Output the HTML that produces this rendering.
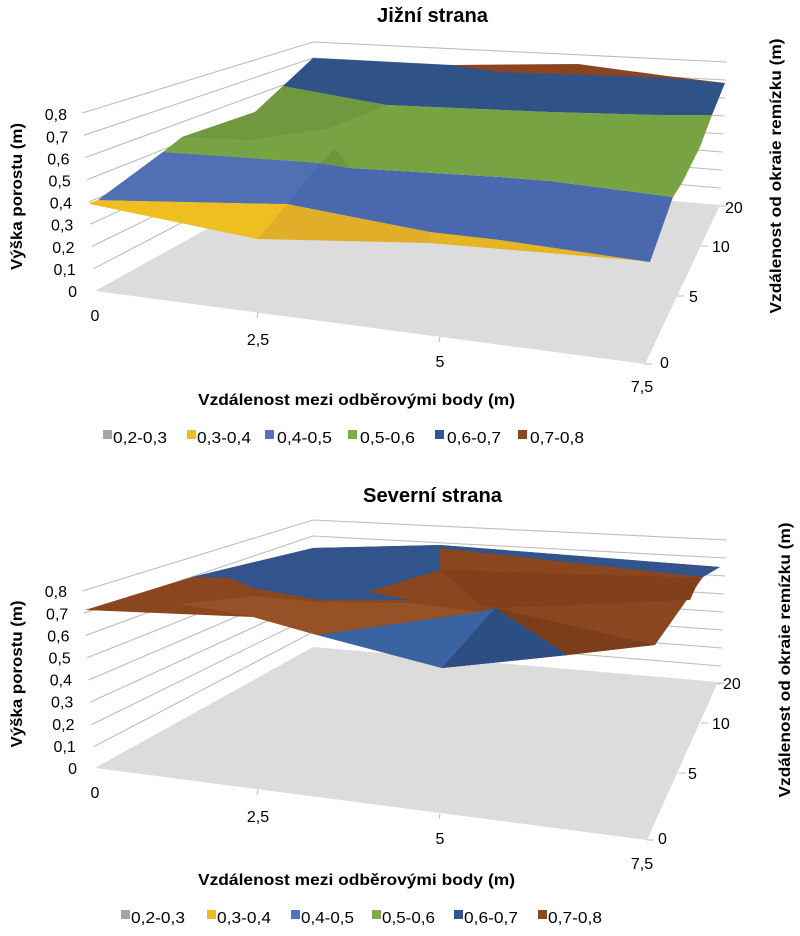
<!DOCTYPE html>
<html>
<head>
<meta charset="utf-8">
<style>
  html,body{margin:0;padding:0;background:#fff;}
  svg{display:block;}
  text{font-family:"Liberation Sans",sans-serif;fill:#000;}
  .t{font-size:16px;}
  .b{font-weight:bold;}
</style>
</head>
<body>
<svg width="800" height="936" viewBox="0 0 800 936" xmlns="http://www.w3.org/2000/svg">

<!-- ================= TOP CHART ================= -->
<g id="top">
  <!-- gridlines -->
  <g fill="none" stroke="#bcbcbc" stroke-width="1.1">
    <polyline points="313,170 720,206"/>
    <polyline points="93.4,268.8 313,154 720.9,188"/>
    <polyline points="91.8,246.5 313,138 721.8,170"/>
    <polyline points="90.2,224.3 313,122 722.6,152"/>
    <polyline points="88.6,202 313,106 723.5,134"/>
    <polyline points="87,179.8 313,90 724.4,116"/>
    <polyline points="85.4,157.5 313,74 725.3,98"/>
    <polyline points="83.8,135.3 313,58 726.1,80"/>
    <polyline points="82.2,113 313,42 727,62"/>
  </g>
  <!-- floor -->
  <polygon points="95,291 645,364 720,205 313,170" fill="#dcdcdc"/>
  <!-- ticks -->
  <g stroke="#bcbcbc" stroke-width="1">
    <line x1="258" y1="312.6" x2="257" y2="318"/>
    <line x1="440" y1="336.8" x2="439" y2="342"/>
    <line x1="645" y1="364" x2="652" y2="364"/>
    <line x1="677" y1="296" x2="684" y2="296"/>
    <line x1="701" y1="246" x2="708" y2="246"/>
    <line x1="720" y1="206" x2="727" y2="206"/>
  </g>
  <!-- surface -->
  <polygon points="90,203 98,200 287,204 430,232 500,240 650,262 633,260 550,253 430,243 258,239 90,204" fill="#e0ae28"/>
  <polygon points="90,203 98,200 287,204 258,239 90,204" fill="#efbf22"/>
  <polygon points="430,232 500,240 650,262 633,260 550,253 430,243" fill="#e6b526"/>
  <polygon points="98,200 163,152 250,158 320,163 350,168 500,177 550,181 673,197 650,262 500,240 430,232 287,204" fill="#4a68ae"/>
  <polygon points="98,200 163,152 250,158 320,163 287,204" fill="#5170b4"/>
  <polygon points="163,152 182,137 255,112 283,86 387,105 550,112 660,115 712,115 700,147 682,183 673,197 550,181 500,177 350,168 320,163 250,158" fill="#77a343"/>
  <polygon points="182,137 255,112 283,86 387,105 330,128 250,140" fill="#6f983f"/>
  <polygon points="320,163 350,168 335,148" fill="#6d963e"/>
  <polygon points="283,86 313,58 450,65 578,66 667,77 725,83 712,115 660,115 550,112 387,105" fill="#2f5287"/>
  <polygon points="450,65 578,64 667,76 725,83 667,78 600,75 550,74 500,72" fill="#8a4520"/>

  <!-- text -->
  <text class="b" x="432.5" y="22" font-size="20" text-anchor="middle" textLength="111" lengthAdjust="spacingAndGlyphs">Jižní strana</text>

  <g class="t" text-anchor="end">
    <text x="77" y="297">0</text>
    <text x="75.8" y="274.9">0,1</text>
    <text x="74.5" y="252.8">0,2</text>
    <text x="73.3" y="230.7">0,3</text>
    <text x="72" y="208.6">0,4</text>
    <text x="70.8" y="186.5">0,5</text>
    <text x="69.5" y="164.4">0,6</text>
    <text x="68.3" y="142.3">0,7</text>
    <text x="67" y="120.2">0,8</text>
  </g>
  <g class="t" text-anchor="middle">
    <text x="95" y="321">0</text>
    <text x="258" y="345">2,5</text>
    <text x="440" y="367">5</text>
    <text x="642" y="392">7,5</text>
  </g>
  <g class="t">
    <text x="660" y="368">0</text>
    <text x="689" y="302">5</text>
    <text x="712" y="252">10</text>
    <text x="725" y="213">20</text>
  </g>

  <text class="b" font-size="16" text-anchor="middle" textLength="147" lengthAdjust="spacingAndGlyphs" transform="translate(22,196.5) rotate(-90)">Výška porostu (m)</text>
  <text class="b" font-size="16" text-anchor="middle" textLength="275" lengthAdjust="spacingAndGlyphs" transform="translate(781,176) rotate(-90)">Vzdálenost od okraie remízku (m)</text>
  <text class="b" x="198" y="405" font-size="16" textLength="317" lengthAdjust="spacingAndGlyphs">Vzdálenost mezi odběrovými body (m)</text>

  <!-- legend -->
  <rect x="103" y="430" width="9" height="9" fill="#a5a5a5"/>
  <rect x="187" y="430" width="9" height="9" fill="#ecbc24"/>
  <rect x="265" y="430" width="9" height="9" fill="#5272bd"/>
  <rect x="348" y="430" width="9" height="9" fill="#7cab48"/>
  <rect x="435" y="430" width="9" height="9" fill="#2f5690"/>
  <rect x="518" y="430" width="9" height="9" fill="#8b4720"/>
  <g class="t">
    <text x="113" y="443" textLength="54" lengthAdjust="spacingAndGlyphs">0,2-0,3</text>
    <text x="197" y="443" textLength="54" lengthAdjust="spacingAndGlyphs">0,3-0,4</text>
    <text x="277" y="443" textLength="55" lengthAdjust="spacingAndGlyphs">0,4-0,5</text>
    <text x="360" y="443" textLength="55" lengthAdjust="spacingAndGlyphs">0,5-0,6</text>
    <text x="447" y="443" textLength="54" lengthAdjust="spacingAndGlyphs">0,6-0,7</text>
    <text x="530" y="443" textLength="54" lengthAdjust="spacingAndGlyphs">0,7-0,8</text>
  </g>
</g>

<!-- ================= BOTTOM CHART ================= -->
<g id="bottom">
  <g fill="none" stroke="#bcbcbc" stroke-width="1.1" transform="translate(0,478)">
    <polyline points="313,170 720,206"/>
    <polyline points="93.4,268.8 313,154 720.9,188"/>
    <polyline points="91.8,246.5 313,138 721.8,170"/>
    <polyline points="90.2,224.3 313,122 722.6,152"/>
    <polyline points="88.6,202 313,106 723.5,134"/>
    <polyline points="87,179.8 313,90 724.4,116"/>
    <polyline points="85.4,157.5 313,74 725.3,98"/>
    <polyline points="83.8,135.3 313,58 726.1,80"/>
    <polyline points="82.2,113 313,42 727,62"/>
  </g>
  <polygon points="95,768 647,840 718,682 313,647" fill="#dcdcdc"/>
  <g stroke="#bcbcbc" stroke-width="1">
    <line x1="258" y1="789.6" x2="257" y2="795"/>
    <line x1="440" y1="813.8" x2="439" y2="819"/>
    <line x1="647" y1="840" x2="654" y2="840"/>
    <line x1="679" y1="773" x2="686" y2="773"/>
    <line x1="701" y1="723" x2="708" y2="723"/>
    <line x1="718" y1="683" x2="725" y2="683"/>
  </g>
  <!-- surface -->
  <polygon points="85,610 192,577 313,548 440,545 720,567 703,577 655,645 568,655 442,668 317,635 253,617" fill="#8a461f"/>
  <polygon points="180,604 253,617 317,635 480,612 410,603 320,602 253,596" fill="#975126"/>
  <polygon points="495,608 655,645 568,655" fill="#7c3e1a"/>
  <polygon points="440,570 700,578 690,600 495,608 480,604" fill="#823f1c"/>
  <polygon points="192,577 313,548 440,545 440,570 367,592 410,600 320,600 253,588 230,578" fill="#30548b"/>
  <polygon points="440,545 720,567 703,577 440,548" fill="#30548b"/>
  <polygon points="317,635 480,612 495,608 568,655 442,668" fill="#3a63a1"/>
  <polygon points="495,608 568,655 442,668" fill="#2c4e82"/>

  <text class="b" x="432.5" y="502" font-size="20" text-anchor="middle" textLength="139" lengthAdjust="spacingAndGlyphs">Severní strana</text>

  <g class="t" text-anchor="end">
    <text x="77" y="774">0</text>
    <text x="75.8" y="751.9">0,1</text>
    <text x="74.5" y="729.8">0,2</text>
    <text x="73.3" y="707.7">0,3</text>
    <text x="72" y="685.6">0,4</text>
    <text x="70.8" y="663.5">0,5</text>
    <text x="69.5" y="641.4">0,6</text>
    <text x="68.3" y="619.3">0,7</text>
    <text x="67" y="597.2">0,8</text>
  </g>
  <g class="t" text-anchor="middle">
    <text x="95" y="798">0</text>
    <text x="258" y="822">2,5</text>
    <text x="440" y="844">5</text>
    <text x="642" y="869">7,5</text>
  </g>
  <g class="t">
    <text x="658" y="844">0</text>
    <text x="688" y="779">5</text>
    <text x="712" y="729">10</text>
    <text x="723" y="689">20</text>
  </g>

  <text class="b" font-size="16" text-anchor="middle" textLength="147" lengthAdjust="spacingAndGlyphs" transform="translate(22,674) rotate(-90)">Výška porostu (m)</text>
  <text class="b" font-size="16" text-anchor="middle" textLength="275" lengthAdjust="spacingAndGlyphs" transform="translate(790,660) rotate(-90)">Vzdálenost od okraie remízku (m)</text>
  <text class="b" x="198" y="885" font-size="16" textLength="317" lengthAdjust="spacingAndGlyphs">Vzdálenost mezi odběrovými body (m)</text>

  <rect x="121" y="910" width="9" height="9" fill="#a5a5a5"/>
  <rect x="207" y="910" width="9" height="9" fill="#ecbc24"/>
  <rect x="291" y="910" width="9" height="9" fill="#5272bd"/>
  <rect x="372" y="910" width="9" height="9" fill="#7cab48"/>
  <rect x="454" y="910" width="9" height="9" fill="#2f5690"/>
  <rect x="538" y="910" width="9" height="9" fill="#8b4720"/>
  <g class="t">
    <text x="131" y="923" textLength="54" lengthAdjust="spacingAndGlyphs">0,2-0,3</text>
    <text x="217" y="923" textLength="54" lengthAdjust="spacingAndGlyphs">0,3-0,4</text>
    <text x="301" y="923" textLength="53" lengthAdjust="spacingAndGlyphs">0,4-0,5</text>
    <text x="382" y="923" textLength="53" lengthAdjust="spacingAndGlyphs">0,5-0,6</text>
    <text x="464" y="923" textLength="54" lengthAdjust="spacingAndGlyphs">0,6-0,7</text>
    <text x="548" y="923" textLength="54" lengthAdjust="spacingAndGlyphs">0,7-0,8</text>
  </g>
</g>

</svg>
</body>
</html>
